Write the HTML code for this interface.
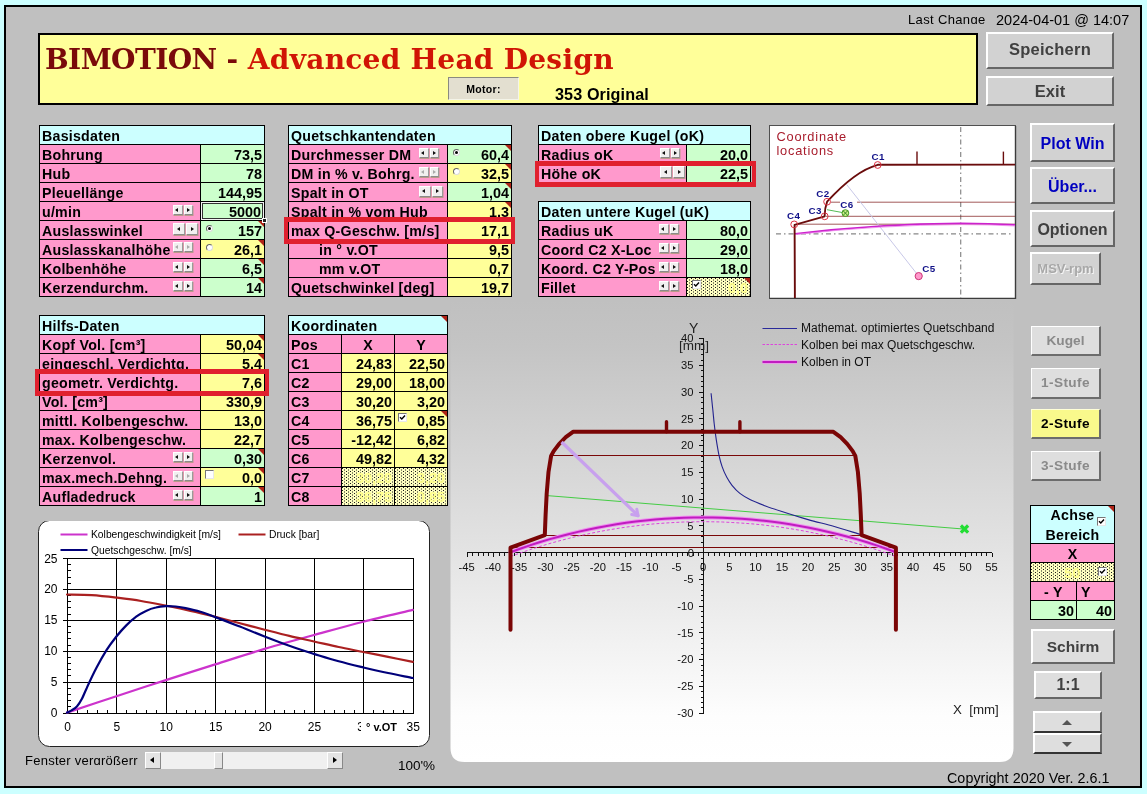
<!DOCTYPE html><html><head><meta charset="utf-8"><title>BIMOTION - Advanced Head Design</title><style>
*{box-sizing:border-box;margin:0;padding:0}
html,body{width:1147px;height:794px;overflow:hidden}
body{background:#ccffff;font-family:"Liberation Sans",sans-serif;position:relative;color:#000}
.a{position:absolute}
#frame{left:4px;top:5px;width:1138px;height:783px;border:2px solid #000;background:#c0c0c0}
.tb{position:absolute;background:#000}
.c{position:absolute;height:18px;font-weight:bold;font-size:14.2px;letter-spacing:0.25px;line-height:20px;white-space:nowrap;overflow:hidden;padding-left:2px}
.v{text-align:right;padding-right:2px;padding-left:0;letter-spacing:0;font-size:14.4px}
.ce{text-align:center;padding-left:0}
.tri{position:absolute;right:0;top:0;width:0;height:0;border-top:6px solid #b02418;border-left:6px solid transparent}
.sp{position:absolute;width:10px;height:10px;background:#f1efef;border-top:1px solid #fff;border-left:1px solid #fff;border-right:1px solid #9a9a9a;border-bottom:1px solid #8a8a8a;box-shadow:0.5px 1px 0 #b98;}
.sp i{position:absolute;left:50%;top:50%;margin:-2px 0 0 -2.5px;width:0;height:0;border-top:2.5px solid transparent;border-bottom:2.5px solid transparent}
.sp.l i{border-right:3.5px solid #111}
.sp.r i{border-left:3.5px solid #111;margin-left:-1.5px}
.sp.d.l i{border-right-color:#aaa}
.sp.d.r i{border-left-color:#aaa}
.rb{position:absolute;width:7px;height:7px;border-radius:50%;background:#fff;border:1px solid #666;border-bottom-color:#ddd;border-right-color:#ddd}
.rb.on::after{content:"";position:absolute;left:1px;top:1px;width:3px;height:3px;border-radius:50%;background:#000}
.cb{position:absolute;width:9px;height:9px;background:#fff;border:1px solid #777;border-bottom-color:#e8e8e8;border-right-color:#e8e8e8}
.dot{background-color:#ffffc0;background-image:conic-gradient(at 1px 1px,rgba(0,0,0,0) 75%,#181818 0),conic-gradient(at 1px 1px,rgba(0,0,0,0) 75%,#181818 0);background-size:4px 3px;background-position:0 0,2px 1.5px}
.btn{position:absolute;background:#d2d2d2;border-top:2px solid #fff;border-left:2px solid #fff;border-right:2px solid #666;border-bottom:2px solid #666;font-weight:bold;text-align:center;white-space:nowrap;color:#404040}
.red{position:absolute;border:4px solid #e0202e}
</style></head><body>
<div id="frame" class="a"></div>
<div class="a" style="left:908px;top:12px;height:12px;overflow:hidden;font-size:13px;letter-spacing:0.35px;line-height:15px;white-space:nowrap">Last Change</div>
<div class="a" style="left:996px;top:12px;font-size:14.5px;line-height:16px;white-space:nowrap">2024-04-01 @ 14:07</div>
<div class="a" style="left:38px;top:33px;width:940px;height:72px;border:2px solid #000;background:#ffff99"></div>
<div class="a" style="left:45px;top:43px;font:bold 28px/34px 'DejaVu Serif','Liberation Serif',serif;white-space:nowrap;color:#7a0a0a"><span style="letter-spacing:-0.55px">BIMOTION</span> - <span style="color:#d01505;letter-spacing:0.28px">Advanced Head Design</span></div>
<div class="a" style="left:448px;top:77px;width:71px;height:23px;background:#e3dfd0;border-top:1px solid #8a8a80;border-left:1px solid #8a8a80;border-right:1px solid #f4f4e8;border-bottom:1px solid #f4f4e8;font-weight:bold;font-size:10.5px;letter-spacing:0.3px;line-height:22px;text-align:center">Motor:</div>
<div class="a" style="left:555px;top:85px;font-weight:bold;font-size:16.2px;letter-spacing:0.1px;line-height:18px;white-space:nowrap">353 Original</div>
<div class="tb" style="left:39px;top:125px;width:226px;height:172px">
<div class="c " style="left:1px;top:1px;width:224px;background:#ccffff;">Basisdaten</div>
<div class="c " style="left:1px;top:20px;width:160px;background:#ff99cc;">Bohrung</div>
<div class="c v" style="left:162px;top:20px;width:63px;background:#ccffcc;">73,5</div>
<div class="c " style="left:1px;top:39px;width:160px;background:#ff99cc;">Hub</div>
<div class="c v" style="left:162px;top:39px;width:63px;background:#ccffcc;">78</div>
<div class="c " style="left:1px;top:58px;width:160px;background:#ff99cc;">Pleuellänge</div>
<div class="c v" style="left:162px;top:58px;width:63px;background:#ccffcc;">144,95</div>
<div class="c " style="left:1px;top:77px;width:160px;background:#ff99cc;">u/min<div class="sp l" style="left:133px;top:3px;width:9.6px;height:9.6px"><i></i></div><div class="sp r" style="left:143.8px;top:3px;width:9.6px;height:9.6px"><i></i></div></div>
<div class="c v" style="left:162px;top:77px;width:63px;background:#ccffcc;padding-right:3px;">5000</div>
<div class="c " style="left:1px;top:96px;width:160px;background:#ff99cc;">Auslasswinkel<div class="sp l" style="left:133px;top:2px;width:12px;height:12px"><i></i></div><div class="sp r" style="left:146.2px;top:2px;width:12px;height:12px"><i></i></div></div>
<div class="c v" style="left:162px;top:96px;width:63px;background:#ccffcc;">157<span class="tri"></span><span class="rb on" style="left:5px;top:4px"></span></div>
<div class="c " style="left:1px;top:115px;width:160px;background:#ff99cc;">Auslasskanalhöhe<div class="sp l d" style="left:133px;top:2px;width:9.6px;height:9.6px"><i></i></div><div class="sp r d" style="left:143.8px;top:2px;width:9.6px;height:9.6px"><i></i></div></div>
<div class="c v" style="left:162px;top:115px;width:63px;background:#ffff99;">26,1<span class="tri"></span><span class="rb" style="left:5px;top:4px"></span></div>
<div class="c " style="left:1px;top:134px;width:160px;background:#ff99cc;">Kolbenhöhe<div class="sp l" style="left:133px;top:3px;width:9.6px;height:9.6px"><i></i></div><div class="sp r" style="left:143.8px;top:3px;width:9.6px;height:9.6px"><i></i></div></div>
<div class="c v" style="left:162px;top:134px;width:63px;background:#ccffcc;">6,5<span class="tri"></span></div>
<div class="c " style="left:1px;top:153px;width:160px;background:#ff99cc;">Kerzendurchm.<div class="sp l" style="left:133px;top:3px;width:9.6px;height:9.6px"><i></i></div><div class="sp r" style="left:143.8px;top:3px;width:9.6px;height:9.6px"><i></i></div></div>
<div class="c v" style="left:162px;top:153px;width:63px;background:#ccffcc;">14<span class="tri"></span></div>
</div>
<div class="a" style="left:200px;top:201px;width:65px;height:20px;border:1px solid #000;box-shadow:inset 0 0 0 1px #f4f4f4, inset 0 0 0 2px #333"></div>
<div class="a" style="left:262px;top:218px;width:5px;height:5px;background:#222;border:1px solid #fff"></div>
<div class="tb" style="left:288px;top:125px;width:224px;height:172px">
<div class="c " style="left:1px;top:1px;width:222px;background:#ccffff;">Quetschkantendaten</div>
<div class="c " style="left:1px;top:20px;width:158px;background:#ff99cc;">Durchmesser DM<div class="sp l" style="left:130px;top:3px;width:9.6px;height:9.6px"><i></i></div><div class="sp r" style="left:140.8px;top:3px;width:9.6px;height:9.6px"><i></i></div></div>
<div class="c v" style="left:160px;top:20px;width:63px;background:#ccffcc;">60,4<span class="tri"></span><span class="rb on" style="left:5px;top:4px"></span></div>
<div class="c " style="left:1px;top:39px;width:158px;background:#ff99cc;">DM in % v. Bohrg.<div class="sp l d" style="left:130px;top:3px;width:9.6px;height:9.6px"><i></i></div><div class="sp r d" style="left:140.8px;top:3px;width:9.6px;height:9.6px"><i></i></div></div>
<div class="c v" style="left:160px;top:39px;width:63px;background:#ffff99;">32,5<span class="tri"></span><span class="rb" style="left:5px;top:4px"></span></div>
<div class="c " style="left:1px;top:58px;width:158px;background:#ff99cc;">Spalt in OT<div class="sp l" style="left:130px;top:2.5px;width:11.5px;height:11.5px"><i></i></div><div class="sp r" style="left:142.7px;top:2.5px;width:11.5px;height:11.5px"><i></i></div></div>
<div class="c v" style="left:160px;top:58px;width:63px;background:#ccffcc;">1,04<span class="tri"></span></div>
<div class="c " style="left:1px;top:77px;width:158px;background:#ff99cc;">Spalt in % vom Hub</div>
<div class="c v" style="left:160px;top:77px;width:63px;background:#ffff99;">1,3<span class="tri"></span></div>
<div class="c " style="left:1px;top:96px;width:158px;background:#ff99cc;">max Q-Geschw. [m/s]</div>
<div class="c v" style="left:160px;top:96px;width:63px;background:#ffff99;">17,1</div>
<div class="c " style="left:1px;top:115px;width:158px;background:#ff99cc;padding-left:30px;">in ° v.OT</div>
<div class="c v" style="left:160px;top:115px;width:63px;background:#ffff99;">9,5</div>
<div class="c " style="left:1px;top:134px;width:158px;background:#ff99cc;padding-left:30px;">mm v.OT</div>
<div class="c v" style="left:160px;top:134px;width:63px;background:#ffff99;">0,7</div>
<div class="c " style="left:1px;top:153px;width:158px;background:#ff99cc;">Quetschwinkel [deg]</div>
<div class="c v" style="left:160px;top:153px;width:63px;background:#ffff99;">19,7</div>
</div>
<div class="tb" style="left:538px;top:125px;width:213px;height:58px">
<div class="c " style="left:1px;top:1px;width:211px;background:#ccffff;">Daten obere Kugel (oK)</div>
<div class="c " style="left:1px;top:20px;width:147px;background:#ff99cc;">Radius oK<div class="sp l" style="left:121px;top:3px;width:9.6px;height:9.6px"><i></i></div><div class="sp r" style="left:131.8px;top:3px;width:9.6px;height:9.6px"><i></i></div></div>
<div class="c v" style="left:149px;top:20px;width:63px;background:#ccffcc;">20,0</div>
<div class="c " style="left:1px;top:39px;width:147px;background:#ff99cc;">Höhe oK<div class="sp l" style="left:121px;top:2px;width:12px;height:12px"><i></i></div><div class="sp r" style="left:134.2px;top:2px;width:12px;height:12px"><i></i></div></div>
<div class="c v" style="left:149px;top:39px;width:63px;background:#ccffcc;">22,5</div>
</div>
<div class="tb" style="left:538px;top:201px;width:213px;height:96px">
<div class="c " style="left:1px;top:1px;width:211px;background:#ccffff;">Daten untere Kugel (uK)</div>
<div class="c " style="left:1px;top:20px;width:147px;background:#ff99cc;">Radius uK<div class="sp l" style="left:120px;top:3px;width:9.6px;height:9.6px"><i></i></div><div class="sp r" style="left:130.8px;top:3px;width:9.6px;height:9.6px"><i></i></div></div>
<div class="c v" style="left:149px;top:20px;width:63px;background:#ccffcc;">80,0</div>
<div class="c " style="left:1px;top:39px;width:147px;background:#ff99cc;">Coord C2 X-Loc<div class="sp l" style="left:120px;top:3px;width:9.6px;height:9.6px"><i></i></div><div class="sp r" style="left:130.8px;top:3px;width:9.6px;height:9.6px"><i></i></div></div>
<div class="c v" style="left:149px;top:39px;width:63px;background:#ccffcc;">29,0</div>
<div class="c " style="left:1px;top:58px;width:147px;background:#ff99cc;">Koord. C2 Y-Pos<div class="sp l" style="left:120px;top:3px;width:9.6px;height:9.6px"><i></i></div><div class="sp r" style="left:130.8px;top:3px;width:9.6px;height:9.6px"><i></i></div></div>
<div class="c v" style="left:149px;top:58px;width:63px;background:#ccffcc;">18,0</div>
<div class="c " style="left:1px;top:77px;width:147px;background:#ff99cc;">Fillet<div class="sp l" style="left:120px;top:3px;width:9.6px;height:9.6px"><i></i></div><div class="sp r" style="left:130.8px;top:3px;width:9.6px;height:9.6px"><i></i></div></div>
<div class="c v dot" style="left:149px;top:77px;width:63px;"><span style="color:#ffff8c">0,0</span><span class="tri"></span><span class="cb" style="left:5px;top:2px"><svg width="7" height="7" viewBox="0 0 7 7" style="position:absolute;left:0;top:0"><path d="M1 3.2 L2.8 5 L6 1.5" stroke="#000" stroke-width="1.4" fill="none"/></svg></span></div>
</div>
<div class="tb" style="left:39px;top:315px;width:226px;height:191px">
<div class="c " style="left:1px;top:1px;width:224px;background:#ccffff;">Hilfs-Daten</div>
<div class="c " style="left:1px;top:20px;width:160px;background:#ff99cc;">Kopf Vol. [cm³]</div>
<div class="c v" style="left:162px;top:20px;width:63px;background:#ffff99;">50,04<span class="tri"></span></div>
<div class="c " style="left:1px;top:39px;width:160px;background:#ff99cc;">eingeschl. Verdichtg.</div>
<div class="c v" style="left:162px;top:39px;width:63px;background:#ffff99;">5,4<span class="tri"></span></div>
<div class="c " style="left:1px;top:58px;width:160px;background:#ff99cc;">geometr. Verdichtg.</div>
<div class="c v" style="left:162px;top:58px;width:63px;background:#ffff99;">7,6</div>
<div class="c " style="left:1px;top:77px;width:160px;background:#ff99cc;">Vol. [cm³]</div>
<div class="c v" style="left:162px;top:77px;width:63px;background:#ffff99;">330,9</div>
<div class="c " style="left:1px;top:96px;width:160px;background:#ff99cc;">mittl. Kolbengeschw.</div>
<div class="c v" style="left:162px;top:96px;width:63px;background:#ffff99;">13,0</div>
<div class="c " style="left:1px;top:115px;width:160px;background:#ff99cc;">max. Kolbengeschw.</div>
<div class="c v" style="left:162px;top:115px;width:63px;background:#ffff99;">22,7</div>
<div class="c " style="left:1px;top:134px;width:160px;background:#ff99cc;">Kerzenvol.<div class="sp l" style="left:133px;top:3px;width:9.6px;height:9.6px"><i></i></div><div class="sp r" style="left:143.8px;top:3px;width:9.6px;height:9.6px"><i></i></div></div>
<div class="c v" style="left:162px;top:134px;width:63px;background:#ccffcc;">0,30<span class="tri"></span></div>
<div class="c " style="left:1px;top:153px;width:160px;background:#ff99cc;">max.mech.Dehng.<div class="sp l d" style="left:133px;top:3px;width:9.6px;height:9.6px"><i></i></div><div class="sp r d" style="left:143.8px;top:3px;width:9.6px;height:9.6px"><i></i></div></div>
<div class="c v" style="left:162px;top:153px;width:63px;background:#ffff99;">0,0<span class="tri"></span><span class="cb" style="left:4px;top:2px"></span></div>
<div class="c " style="left:1px;top:172px;width:160px;background:#ff99cc;">Aufladedruck<div class="sp l" style="left:133px;top:3px;width:9.6px;height:9.6px"><i></i></div><div class="sp r" style="left:143.8px;top:3px;width:9.6px;height:9.6px"><i></i></div></div>
<div class="c v" style="left:162px;top:172px;width:63px;background:#ccffcc;">1<span class="tri"></span></div>
</div>
<div class="tb" style="left:288px;top:315px;width:160px;height:191px">
<div class="c " style="left:1px;top:1px;width:158px;background:#ccffff;">Koordinaten<span class="tri"></span></div>
<div class="c " style="left:1px;top:20px;width:52px;background:#ff99cc;">Pos</div>
<div class="c ce" style="left:54px;top:20px;width:52px;background:#ff99cc;">X</div>
<div class="c ce" style="left:107px;top:20px;width:52px;background:#ff99cc;">Y</div>
<div class="c " style="left:1px;top:39px;width:52px;background:#ff99cc;">C1</div>
<div class="c v" style="left:54px;top:39px;width:52px;background:#ffff99;">24,83</div>
<div class="c v" style="left:107px;top:39px;width:52px;background:#ffff99;">22,50</div>
<div class="c " style="left:1px;top:58px;width:52px;background:#ff99cc;">C2</div>
<div class="c v" style="left:54px;top:58px;width:52px;background:#ffff99;">29,00</div>
<div class="c v" style="left:107px;top:58px;width:52px;background:#ffff99;">18,00</div>
<div class="c " style="left:1px;top:77px;width:52px;background:#ff99cc;">C3</div>
<div class="c v" style="left:54px;top:77px;width:52px;background:#ffff99;">30,20</div>
<div class="c v" style="left:107px;top:77px;width:52px;background:#ffff99;">3,20</div>
<div class="c " style="left:1px;top:96px;width:52px;background:#ff99cc;">C4</div>
<div class="c v" style="left:54px;top:96px;width:52px;background:#ffff99;">36,75</div>
<div class="c v" style="left:107px;top:96px;width:52px;background:#ffff99;">0,85<span class="tri"></span><span class="cb" style="left:3px;top:2px"><svg width="7" height="7" viewBox="0 0 7 7" style="position:absolute;left:0;top:0"><path d="M1 3.2 L2.8 5 L6 1.5" stroke="#000" stroke-width="1.4" fill="none"/></svg></span></div>
<div class="c " style="left:1px;top:115px;width:52px;background:#ff99cc;">C5</div>
<div class="c v" style="left:54px;top:115px;width:52px;background:#ffff99;">-12,42</div>
<div class="c v" style="left:107px;top:115px;width:52px;background:#ffff99;">6,82</div>
<div class="c " style="left:1px;top:134px;width:52px;background:#ff99cc;">C6</div>
<div class="c v" style="left:54px;top:134px;width:52px;background:#ffff99;">49,82</div>
<div class="c v" style="left:107px;top:134px;width:52px;background:#ffff99;">4,32</div>
<div class="c " style="left:1px;top:153px;width:52px;background:#ff99cc;">C7</div>
<div class="c v dot" style="left:54px;top:153px;width:52px;"><span style="color:#ffff8c">30,20</span></div>
<div class="c v dot" style="left:107px;top:153px;width:52px;"><span style="color:#ffff8c">3,20</span></div>
<div class="c " style="left:1px;top:172px;width:52px;background:#ff99cc;">C8</div>
<div class="c v dot" style="left:54px;top:172px;width:52px;"><span style="color:#ffff8c">36,75</span></div>
<div class="c v dot" style="left:107px;top:172px;width:52px;"><span style="color:#ffff8c">0,85</span></div>
</div>
<div class="red" style="left:284px;top:217px;width:231px;height:27px;border-top-width:5px;border-bottom-width:5px"></div>
<div class="red" style="left:535px;top:161px;width:221px;height:26px;border-top-width:5px;border-bottom-width:5px"></div>
<div class="red" style="left:35px;top:369px;width:234px;height:27px;border-top-width:5px;border-bottom-width:5px"></div>
<div class="btn" style="left:986px;top:32px;width:128px;height:37px;font-size:16.5px;line-height:33px;color:#404040;background:#d2d2d2;line-height:31px;letter-spacing:0.25px;">Speichern</div>
<div class="btn" style="left:986px;top:76px;width:128px;height:30px;font-size:16.5px;line-height:26px;color:#404040;background:#d2d2d2;">Exit</div>
<div class="btn" style="left:1030px;top:123px;width:85px;height:39px;font-size:16px;line-height:35px;color:#0000c0;background:#d2d2d2;line-height:37px;">Plot Win</div>
<div class="btn" style="left:1030px;top:167px;width:85px;height:37px;font-size:16px;line-height:33px;color:#0000c0;background:#d2d2d2;line-height:35px;">Über...</div>
<div class="btn" style="left:1030px;top:210px;width:85px;height:37px;font-size:16px;line-height:33px;color:#404040;background:#d2d2d2;line-height:35px;">Optionen</div>
<div class="btn" style="left:1030px;top:252px;width:71px;height:33px;font-size:13px;line-height:29px;color:#a8a8a8;background:#d2d2d2;text-shadow:1px 1px 0 #f4f4f4;">MSV-rpm</div>
<div class="btn" style="left:1031px;top:326px;width:70px;height:30px;font-size:13.7px;line-height:26px;color:#8a8a8a;background:#dedede;border-top-width:1px;border-left-width:1px;border-right-color:#6c6c6c;border-bottom-color:#6c6c6c;line-height:27px;">Kugel</div>
<div class="btn" style="left:1031px;top:368px;width:70px;height:31px;font-size:13.6px;line-height:27px;color:#8a8a8a;background:#dedede;border-top-width:1px;border-left-width:1px;border-right-color:#6c6c6c;border-bottom-color:#6c6c6c;letter-spacing:0.4px;line-height:28px;">1-Stufe</div>
<div class="btn" style="left:1031px;top:409px;width:70px;height:30px;font-size:13.6px;line-height:26px;color:#000;background:#f9f98c;border-top-width:1px;border-left-width:1px;border-right-color:#6c6c6c;border-bottom-color:#6c6c6c;letter-spacing:0.4px;line-height:27px;border-top-color:#ffffd8;border-left-color:#ffffd8;">2-Stufe</div>
<div class="btn" style="left:1031px;top:451px;width:70px;height:30px;font-size:13.6px;line-height:26px;color:#8a8a8a;background:#dedede;border-top-width:1px;border-left-width:1px;border-right-color:#6c6c6c;border-bottom-color:#6c6c6c;letter-spacing:0.4px;line-height:27px;">3-Stufe</div>
<div class="btn" style="left:1031px;top:629px;width:84px;height:35px;font-size:15.5px;line-height:31px;color:#404040;background:#dedede;">Schirm</div>
<div class="btn" style="left:1034px;top:671px;width:68px;height:28px;font-size:16px;line-height:24px;color:#404040;background:#dedede;">1:1</div>
<div class="btn" style="left:1033px;top:711px;width:69px;height:22px;border-bottom-color:#333;background:#dedede"><svg width="64" height="18" style="position:absolute;left:0;top:0"><path d="M27 12 L37 12 L32 7 Z" fill="#555"/></svg></div>
<div class="btn" style="left:1033px;top:733px;width:69px;height:21px;border-bottom-color:#333;background:#dedede"><svg width="64" height="18" style="position:absolute;left:0;top:0"><path d="M27 7 L37 7 L32 12 Z" fill="#555"/></svg></div>
<div class="tb" style="left:1030px;top:505px;width:85px;height:115px">
<div class="c ce" style="left:1px;top:1px;width:83px;height:37px;background:#ccffff;line-height:19.5px">Achse<br>Bereich<span class="tri"></span><span class="cb" style="left:66px;top:11px"><svg width="7" height="7" viewBox="0 0 7 7" style="position:absolute;left:0;top:0"><path d="M1 3.2 L2.8 5 L6 1.5" stroke="#000" stroke-width="1.4" fill="none"/></svg></span></div>
<div class="c ce" style="left:1px;top:39px;width:83px;background:#ff99cc">X</div>
<div class="c ce dot" style="left:1px;top:58px;width:83px"><span style="color:#ffff8c">50</span><span class="cb" style="left:67px;top:4px"><svg width="7" height="7" viewBox="0 0 7 7" style="position:absolute;left:0;top:0"><path d="M1 3.2 L2.8 5 L6 1.5" stroke="#000" stroke-width="1.4" fill="none"/></svg></span></div>
<div class="c" style="left:1px;top:77px;width:45px;background:#ff99cc;padding-left:13px">- Y</div>
<div class="c" style="left:47px;top:77px;width:37px;background:#ff99cc;padding-left:4px">Y</div>
<div class="c v" style="left:1px;top:96px;width:45px;background:#ccffcc">30</div>
<div class="c v" style="left:47px;top:96px;width:37px;background:#ccffcc">40</div>
</div>
<div class="a" style="left:25px;top:753px;height:11.5px;overflow:hidden;font-size:13px;line-height:16px;white-space:nowrap;letter-spacing:0.25px">Fenster vergrößerr</div>
<div class="a" style="left:398px;top:758px;font-size:13.5px;line-height:15px;white-space:nowrap">100'%</div>
<div class="a" style="left:947px;top:770px;font-size:14.3px;letter-spacing:0.05px;line-height:16px;white-space:nowrap">Copyright 2020 Ver. 2.6.1</div>
<div class="a" style="left:145px;top:752px;width:198px;height:17px;background:#f0f0f0"></div>
<div class="a" style="left:145px;top:752px;width:16px;height:17px;background:#e4e4e4;border:1px solid #fff;border-right-color:#888;border-bottom-color:#888"><i style="position:absolute;left:4px;top:4px;border-top:3.5px solid transparent;border-bottom:3.5px solid transparent;border-right:4px solid #000"></i></div>
<div class="a" style="left:327px;top:752px;width:16px;height:17px;background:#e4e4e4;border:1px solid #fff;border-right-color:#888;border-bottom-color:#888"><i style="position:absolute;left:5px;top:4px;border-top:3.5px solid transparent;border-bottom:3.5px solid transparent;border-left:4px solid #000"></i></div>
<div class="a" style="left:214px;top:752px;width:9px;height:17px;background:#e4e4e4;border:1px solid #fff;border-right-color:#888;border-bottom-color:#888"></div>
<svg class="a" style="left:769px;top:125px" width="248" height="174" viewBox="769 125 248 174"><rect x="769.5" y="125.5" width="246" height="173" fill="#fff" stroke="#505050" stroke-width="1"/><path d="M770 298.5 L1015.5 298.5 L1015.5 126" fill="none" stroke="#3c3c3c" stroke-width="1.4"/><g stroke="#888" stroke-width="1.2" stroke-dasharray="5 3 1.5 3" fill="none"><line x1="960.7" y1="127" x2="960.7" y2="298"/><line x1="776" y1="233.9" x2="1012" y2="233.9"/></g><g stroke="#8c3030" stroke-width="0.8" fill="none"><line x1="831" y1="202.2" x2="840" y2="202.2"/><line x1="857" y1="202.2" x2="1015" y2="202.2"/><line x1="826" y1="216.3" x2="1015" y2="216.3"/><line x1="796" y1="224.2" x2="1015" y2="224.2"/></g><line x1="846.7" y1="184.6" x2="918.7" y2="276.1" stroke="#c8c8e8" stroke-width="1"/><line x1="827" y1="209.7" x2="845.4" y2="213.1" stroke="#55bb55" stroke-width="1"/><path d="M795 233.9 Q 880 223.5 960.7 223.3 Q 990 223.3 1015 224.9" fill="none" stroke="#cc22cc" stroke-width="1.8"/><path d="M795 234.5 Q 880 225 960.7 224.6 Q 990 224.6 1015 226" fill="none" stroke="#ee88ee" stroke-width="0.8"/><path d="M1015 164.6 L877.7 164.8 C 862 169 845 182 827.1 201.7 Q 824.5 209 824.7 216.3 L 794.6 224.9 L 794.9 298" fill="none" stroke="#6a0c0c" stroke-width="1.9" stroke-linejoin="round"/><g stroke="#6a0c0c" stroke-width="1.4"><line x1="917" y1="151.6" x2="917" y2="164.6"/><line x1="1003.4" y1="151.6" x2="1003.4" y2="164.6"/></g><g fill="none" stroke="#dd3344" stroke-width="1"><circle cx="877.7" cy="165" r="3.4"/><circle cx="827.1" cy="201.7" r="3.4"/><circle cx="824.7" cy="216.3" r="3.4"/><circle cx="794.2" cy="224.4" r="3.4"/></g><circle cx="918.7" cy="276.1" r="3.6" fill="#ff99cc" stroke="#cc3377" stroke-width="1"/><circle cx="845.4" cy="213.1" r="3.4" fill="#ccee88" stroke="#449922" stroke-width="1"/><path d="M843 210.7 L847.8 215.5 M847.8 210.7 L843 215.5" stroke="#338822" stroke-width="1"/><g font-family="Liberation Sans, sans-serif" font-size="9.8" font-weight="bold" letter-spacing="0.4" fill="#101088"><text x="871.5" y="159.5">C1</text><text x="816.3" y="196.5">C2</text><text x="808.5" y="214.0">C3</text><text x="787.0" y="219.0">C4</text><text x="922.3" y="272.0">C5</text><text x="840.3" y="207.5">C6</text></g><g font-family="Liberation Sans, sans-serif" font-size="12.8" letter-spacing="0.78" fill="#a81c2c"><text x="776.5" y="140.5">Coordinate</text><text x="776.5" y="154.5">locations</text></g></svg>
<svg class="a" style="left:38px;top:521px" width="392" height="227" viewBox="38 521 392 227"><rect x="38.5" y="520.5" width="391" height="226" rx="11" ry="11" fill="#fff" stroke="#222" stroke-width="1"/><g stroke="#000" stroke-width="1" shape-rendering="crispEdges"><line x1="67.5" y1="558.0" x2="67.5" y2="712.6"/><line x1="116.5" y1="558.0" x2="116.5" y2="712.6"/><line x1="166.5" y1="558.0" x2="166.5" y2="712.6"/><line x1="215.5" y1="558.0" x2="215.5" y2="712.6"/><line x1="265.5" y1="558.0" x2="265.5" y2="712.6"/><line x1="314.5" y1="558.0" x2="314.5" y2="712.6"/><line x1="363.5" y1="558.0" x2="363.5" y2="712.6"/><line x1="413.5" y1="558.0" x2="413.5" y2="712.6"/><line x1="63.0" y1="713.5" x2="412.8" y2="713.5"/><line x1="63.0" y1="682.5" x2="412.8" y2="682.5"/><line x1="63.0" y1="651.5" x2="412.8" y2="651.5"/><line x1="63.0" y1="620.5" x2="412.8" y2="620.5"/><line x1="63.0" y1="589.5" x2="412.8" y2="589.5"/><line x1="63.0" y1="558.5" x2="412.8" y2="558.5"/><line x1="67.0" y1="713.5" x2="71.0" y2="713.5"/><line x1="67.0" y1="706.5" x2="71.0" y2="706.5"/><line x1="67.0" y1="700.5" x2="71.0" y2="700.5"/><line x1="67.0" y1="694.5" x2="71.0" y2="694.5"/><line x1="67.0" y1="688.5" x2="71.0" y2="688.5"/><line x1="67.0" y1="682.5" x2="71.0" y2="682.5"/><line x1="67.0" y1="675.5" x2="71.0" y2="675.5"/><line x1="67.0" y1="669.5" x2="71.0" y2="669.5"/><line x1="67.0" y1="663.5" x2="71.0" y2="663.5"/><line x1="67.0" y1="657.5" x2="71.0" y2="657.5"/><line x1="67.0" y1="651.5" x2="71.0" y2="651.5"/><line x1="67.0" y1="645.5" x2="71.0" y2="645.5"/><line x1="67.0" y1="638.5" x2="71.0" y2="638.5"/><line x1="67.0" y1="632.5" x2="71.0" y2="632.5"/><line x1="67.0" y1="626.5" x2="71.0" y2="626.5"/><line x1="67.0" y1="620.5" x2="71.0" y2="620.5"/><line x1="67.0" y1="614.5" x2="71.0" y2="614.5"/><line x1="67.0" y1="607.5" x2="71.0" y2="607.5"/><line x1="67.0" y1="601.5" x2="71.0" y2="601.5"/><line x1="67.0" y1="595.5" x2="71.0" y2="595.5"/><line x1="67.0" y1="589.5" x2="71.0" y2="589.5"/><line x1="67.0" y1="583.5" x2="71.0" y2="583.5"/><line x1="67.0" y1="577.5" x2="71.0" y2="577.5"/><line x1="67.0" y1="570.5" x2="71.0" y2="570.5"/><line x1="67.0" y1="564.5" x2="71.0" y2="564.5"/><line x1="67.0" y1="558.5" x2="71.0" y2="558.5"/><line x1="67.5" y1="709.6" x2="67.5" y2="713.6"/><line x1="77.5" y1="709.6" x2="77.5" y2="713.6"/><line x1="87.5" y1="709.6" x2="87.5" y2="713.6"/><line x1="97.5" y1="709.6" x2="97.5" y2="713.6"/><line x1="107.5" y1="709.6" x2="107.5" y2="713.6"/><line x1="116.5" y1="709.6" x2="116.5" y2="713.6"/><line x1="126.5" y1="709.6" x2="126.5" y2="713.6"/><line x1="136.5" y1="709.6" x2="136.5" y2="713.6"/><line x1="146.5" y1="709.6" x2="146.5" y2="713.6"/><line x1="156.5" y1="709.6" x2="156.5" y2="713.6"/><line x1="166.5" y1="709.6" x2="166.5" y2="713.6"/><line x1="176.5" y1="709.6" x2="176.5" y2="713.6"/><line x1="186.5" y1="709.6" x2="186.5" y2="713.6"/><line x1="195.5" y1="709.6" x2="195.5" y2="713.6"/><line x1="205.5" y1="709.6" x2="205.5" y2="713.6"/><line x1="215.5" y1="709.6" x2="215.5" y2="713.6"/><line x1="225.5" y1="709.6" x2="225.5" y2="713.6"/><line x1="235.5" y1="709.6" x2="235.5" y2="713.6"/><line x1="245.5" y1="709.6" x2="245.5" y2="713.6"/><line x1="255.5" y1="709.6" x2="255.5" y2="713.6"/><line x1="265.5" y1="709.6" x2="265.5" y2="713.6"/><line x1="274.5" y1="709.6" x2="274.5" y2="713.6"/><line x1="284.5" y1="709.6" x2="284.5" y2="713.6"/><line x1="294.5" y1="709.6" x2="294.5" y2="713.6"/><line x1="304.5" y1="709.6" x2="304.5" y2="713.6"/><line x1="314.5" y1="709.6" x2="314.5" y2="713.6"/><line x1="324.5" y1="709.6" x2="324.5" y2="713.6"/><line x1="334.5" y1="709.6" x2="334.5" y2="713.6"/><line x1="344.5" y1="709.6" x2="344.5" y2="713.6"/><line x1="354.5" y1="709.6" x2="354.5" y2="713.6"/><line x1="363.5" y1="709.6" x2="363.5" y2="713.6"/><line x1="373.5" y1="709.6" x2="373.5" y2="713.6"/><line x1="383.5" y1="709.6" x2="383.5" y2="713.6"/><line x1="393.5" y1="709.6" x2="393.5" y2="713.6"/><line x1="403.5" y1="709.6" x2="403.5" y2="713.6"/><line x1="413.5" y1="709.6" x2="413.5" y2="713.6"/></g><path d="M67.0 712.6 C75.2 709.9 99.9 701.6 116.4 696.2 C132.9 690.8 149.3 685.4 165.8 680.1 C182.3 674.8 198.7 669.6 215.2 664.4 C231.7 659.2 248.1 653.8 264.6 648.9 C281.1 644.0 297.5 639.5 314.0 635.0 C330.5 630.5 346.9 625.9 363.4 621.7 C379.9 617.5 404.6 611.9 412.8 609.9" fill="none" stroke="#cc33cc" stroke-width="2.2" stroke-linecap="round"/><path d="M67.0 594.5 C71.1 594.6 83.5 594.6 91.7 595.1 C99.9 595.6 108.2 596.6 116.4 597.6 C124.6 598.6 132.9 599.6 141.1 601.0 C149.3 602.3 157.6 604.0 165.8 605.6 C174.0 607.3 182.3 609.0 190.5 610.9 C198.7 612.7 207.0 614.7 215.2 616.7 C223.4 618.8 231.7 621.1 239.9 623.2 C248.1 625.4 256.4 627.6 264.6 629.7 C272.8 631.8 281.1 634.0 289.3 635.9 C297.5 637.9 305.8 639.6 314.0 641.5 C322.2 643.3 330.5 645.3 338.7 647.0 C346.9 648.8 355.2 650.3 363.4 652.0 C371.6 653.6 379.9 655.3 388.1 656.9 C396.3 658.6 408.7 661.1 412.8 661.9" fill="none" stroke="#aa2020" stroke-width="2.2" stroke-linecap="round"/><path d="M67.0 712.6 C67.8 712.2 70.3 711.2 71.9 710.1 C73.6 709.1 75.2 708.3 76.9 706.4 C78.5 704.6 80.2 702.1 81.8 699.0 C83.5 695.9 84.3 693.1 86.8 687.9 C89.2 682.6 93.3 673.7 96.6 667.5 C99.9 661.2 103.2 655.3 106.5 650.1 C109.8 645.0 113.1 640.7 116.4 636.5 C119.7 632.4 123.0 628.7 126.3 625.4 C129.6 622.1 132.9 619.2 136.2 616.7 C139.5 614.3 142.7 612.4 146.0 610.9 C149.3 609.3 152.6 608.2 155.9 607.5 C159.2 606.7 162.5 606.4 165.8 606.2 C169.1 606.1 172.4 606.2 175.7 606.5 C179.0 606.9 181.4 607.2 185.6 608.1 C189.7 609.0 195.4 610.3 200.4 611.8 C205.3 613.3 208.6 614.6 215.2 617.1 C221.8 619.5 231.7 623.4 239.9 626.6 C248.1 629.9 256.4 633.3 264.6 636.5 C272.8 639.7 281.1 642.9 289.3 645.8 C297.5 648.7 305.8 651.3 314.0 653.9 C322.2 656.4 330.5 659.0 338.7 661.3 C346.9 663.5 355.2 665.5 363.4 667.5 C371.6 669.4 379.9 671.3 388.1 673.0 C396.3 674.8 408.7 677.1 412.8 678.0" fill="none" stroke="#00007a" stroke-width="2.2" stroke-linecap="round"/><g font-family="Liberation Sans, sans-serif" font-size="12" fill="#000"><text x="57.5" y="717.1" text-anchor="end">0</text><text x="57.5" y="686.2" text-anchor="end">5</text><text x="57.5" y="655.3" text-anchor="end">10</text><text x="57.5" y="624.3" text-anchor="end">15</text><text x="57.5" y="593.4" text-anchor="end">20</text><text x="57.5" y="562.5" text-anchor="end">25</text><text x="67.5" y="730.5" text-anchor="middle">0</text><text x="116.9" y="730.5" text-anchor="middle">5</text><text x="166.3" y="730.5" text-anchor="middle">10</text><text x="215.7" y="730.5" text-anchor="middle">15</text><text x="265.1" y="730.5" text-anchor="middle">20</text><text x="314.5" y="730.5" text-anchor="middle">25</text><text x="363.9" y="730.5" text-anchor="middle">30</text><text x="413.3" y="730.5" text-anchor="middle">35</text></g><rect x="361" y="719" width="45" height="15" fill="#fff"/><text x="366" y="730.5" font-family="Liberation Sans, sans-serif" font-size="11" font-weight="bold" fill="#000">° v.OT</text><g stroke-width="2" fill="none"><line x1="60.5" y1="534.5" x2="87.5" y2="534.5" stroke="#cc33cc"/><line x1="238.5" y1="534.5" x2="265.5" y2="534.5" stroke="#aa2020"/><line x1="60.5" y1="550" x2="87.5" y2="550" stroke="#00007a"/></g><g font-family="Liberation Sans, sans-serif" font-size="10.3" fill="#000"><text x="91" y="538">Kolbengeschwindigkeit [m/s]</text><text x="269" y="538">Druck [bar]</text><text x="91" y="553.5">Quetschgeschw. [m/s]</text></g></svg>
<svg class="a" style="left:440px;top:296px" width="580" height="470" viewBox="440 296 580 470"><defs><linearGradient id="gb" x1="0" y1="0" x2="0" y2="1"><stop offset="0" stop-color="#c0c0c0"/><stop offset="0.1" stop-color="#c4c4c4"/><stop offset="0.5" stop-color="#e0e0e0"/><stop offset="0.9" stop-color="#fdfdfd"/><stop offset="1" stop-color="#ffffff"/></linearGradient></defs><path d="M450.5 300 L1013.5 300 L1013.5 748 Q1013.5 762 999.5 762 L464.5 762 Q450.5 762 450.5 748 Z" fill="url(#gb)"/><g stroke="#111" stroke-width="1" shape-rendering="crispEdges"><line x1="467.2" y1="552.5" x2="991.6" y2="552.5"/><line x1="703.5" y1="338.2" x2="703.5" y2="712.7"/><line x1="467.5" y1="552.5" x2="467.5" y2="557.0"/><line x1="472.5" y1="552.5" x2="472.5" y2="556.0"/><line x1="478.5" y1="552.5" x2="478.5" y2="556.0"/><line x1="483.5" y1="552.5" x2="483.5" y2="556.0"/><line x1="488.5" y1="552.5" x2="488.5" y2="556.0"/><line x1="493.5" y1="552.5" x2="493.5" y2="557.0"/><line x1="499.5" y1="552.5" x2="499.5" y2="556.0"/><line x1="504.5" y1="552.5" x2="504.5" y2="556.0"/><line x1="509.5" y1="552.5" x2="509.5" y2="556.0"/><line x1="514.5" y1="552.5" x2="514.5" y2="556.0"/><line x1="520.5" y1="552.5" x2="520.5" y2="557.0"/><line x1="525.5" y1="552.5" x2="525.5" y2="556.0"/><line x1="530.5" y1="552.5" x2="530.5" y2="556.0"/><line x1="535.5" y1="552.5" x2="535.5" y2="556.0"/><line x1="541.5" y1="552.5" x2="541.5" y2="556.0"/><line x1="546.5" y1="552.5" x2="546.5" y2="557.0"/><line x1="551.5" y1="552.5" x2="551.5" y2="556.0"/><line x1="556.5" y1="552.5" x2="556.5" y2="556.0"/><line x1="562.5" y1="552.5" x2="562.5" y2="556.0"/><line x1="567.5" y1="552.5" x2="567.5" y2="556.0"/><line x1="572.5" y1="552.5" x2="572.5" y2="557.0"/><line x1="577.5" y1="552.5" x2="577.5" y2="556.0"/><line x1="583.5" y1="552.5" x2="583.5" y2="556.0"/><line x1="588.5" y1="552.5" x2="588.5" y2="556.0"/><line x1="593.5" y1="552.5" x2="593.5" y2="556.0"/><line x1="598.5" y1="552.5" x2="598.5" y2="557.0"/><line x1="604.5" y1="552.5" x2="604.5" y2="556.0"/><line x1="609.5" y1="552.5" x2="609.5" y2="556.0"/><line x1="614.5" y1="552.5" x2="614.5" y2="556.0"/><line x1="619.5" y1="552.5" x2="619.5" y2="556.0"/><line x1="625.5" y1="552.5" x2="625.5" y2="557.0"/><line x1="630.5" y1="552.5" x2="630.5" y2="556.0"/><line x1="635.5" y1="552.5" x2="635.5" y2="556.0"/><line x1="640.5" y1="552.5" x2="640.5" y2="556.0"/><line x1="646.5" y1="552.5" x2="646.5" y2="556.0"/><line x1="651.5" y1="552.5" x2="651.5" y2="557.0"/><line x1="656.5" y1="552.5" x2="656.5" y2="556.0"/><line x1="661.5" y1="552.5" x2="661.5" y2="556.0"/><line x1="666.5" y1="552.5" x2="666.5" y2="556.0"/><line x1="672.5" y1="552.5" x2="672.5" y2="556.0"/><line x1="677.5" y1="552.5" x2="677.5" y2="557.0"/><line x1="682.5" y1="552.5" x2="682.5" y2="556.0"/><line x1="687.5" y1="552.5" x2="687.5" y2="556.0"/><line x1="693.5" y1="552.5" x2="693.5" y2="556.0"/><line x1="698.5" y1="552.5" x2="698.5" y2="556.0"/><line x1="703.5" y1="552.5" x2="703.5" y2="557.0"/><line x1="708.5" y1="552.5" x2="708.5" y2="556.0"/><line x1="714.5" y1="552.5" x2="714.5" y2="556.0"/><line x1="719.5" y1="552.5" x2="719.5" y2="556.0"/><line x1="724.5" y1="552.5" x2="724.5" y2="556.0"/><line x1="729.5" y1="552.5" x2="729.5" y2="557.0"/><line x1="735.5" y1="552.5" x2="735.5" y2="556.0"/><line x1="740.5" y1="552.5" x2="740.5" y2="556.0"/><line x1="745.5" y1="552.5" x2="745.5" y2="556.0"/><line x1="750.5" y1="552.5" x2="750.5" y2="556.0"/><line x1="756.5" y1="552.5" x2="756.5" y2="557.0"/><line x1="761.5" y1="552.5" x2="761.5" y2="556.0"/><line x1="766.5" y1="552.5" x2="766.5" y2="556.0"/><line x1="771.5" y1="552.5" x2="771.5" y2="556.0"/><line x1="777.5" y1="552.5" x2="777.5" y2="556.0"/><line x1="782.5" y1="552.5" x2="782.5" y2="557.0"/><line x1="787.5" y1="552.5" x2="787.5" y2="556.0"/><line x1="792.5" y1="552.5" x2="792.5" y2="556.0"/><line x1="798.5" y1="552.5" x2="798.5" y2="556.0"/><line x1="803.5" y1="552.5" x2="803.5" y2="556.0"/><line x1="808.5" y1="552.5" x2="808.5" y2="557.0"/><line x1="813.5" y1="552.5" x2="813.5" y2="556.0"/><line x1="819.5" y1="552.5" x2="819.5" y2="556.0"/><line x1="824.5" y1="552.5" x2="824.5" y2="556.0"/><line x1="829.5" y1="552.5" x2="829.5" y2="556.0"/><line x1="834.5" y1="552.5" x2="834.5" y2="557.0"/><line x1="840.5" y1="552.5" x2="840.5" y2="556.0"/><line x1="845.5" y1="552.5" x2="845.5" y2="556.0"/><line x1="850.5" y1="552.5" x2="850.5" y2="556.0"/><line x1="855.5" y1="552.5" x2="855.5" y2="556.0"/><line x1="861.5" y1="552.5" x2="861.5" y2="557.0"/><line x1="866.5" y1="552.5" x2="866.5" y2="556.0"/><line x1="871.5" y1="552.5" x2="871.5" y2="556.0"/><line x1="876.5" y1="552.5" x2="876.5" y2="556.0"/><line x1="881.5" y1="552.5" x2="881.5" y2="556.0"/><line x1="887.5" y1="552.5" x2="887.5" y2="557.0"/><line x1="892.5" y1="552.5" x2="892.5" y2="556.0"/><line x1="897.5" y1="552.5" x2="897.5" y2="556.0"/><line x1="902.5" y1="552.5" x2="902.5" y2="556.0"/><line x1="908.5" y1="552.5" x2="908.5" y2="556.0"/><line x1="913.5" y1="552.5" x2="913.5" y2="557.0"/><line x1="918.5" y1="552.5" x2="918.5" y2="556.0"/><line x1="923.5" y1="552.5" x2="923.5" y2="556.0"/><line x1="929.5" y1="552.5" x2="929.5" y2="556.0"/><line x1="934.5" y1="552.5" x2="934.5" y2="556.0"/><line x1="939.5" y1="552.5" x2="939.5" y2="557.0"/><line x1="944.5" y1="552.5" x2="944.5" y2="556.0"/><line x1="950.5" y1="552.5" x2="950.5" y2="556.0"/><line x1="955.5" y1="552.5" x2="955.5" y2="556.0"/><line x1="960.5" y1="552.5" x2="960.5" y2="556.0"/><line x1="965.5" y1="552.5" x2="965.5" y2="557.0"/><line x1="971.5" y1="552.5" x2="971.5" y2="556.0"/><line x1="976.5" y1="552.5" x2="976.5" y2="556.0"/><line x1="981.5" y1="552.5" x2="981.5" y2="556.0"/><line x1="986.5" y1="552.5" x2="986.5" y2="556.0"/><line x1="992.5" y1="552.5" x2="992.5" y2="557.0"/><line x1="698.5" y1="713.5" x2="703.5" y2="713.5"/><line x1="700.5" y1="707.5" x2="703.5" y2="707.5"/><line x1="700.5" y1="702.5" x2="703.5" y2="702.5"/><line x1="700.5" y1="697.5" x2="703.5" y2="697.5"/><line x1="700.5" y1="691.5" x2="703.5" y2="691.5"/><line x1="698.5" y1="686.5" x2="703.5" y2="686.5"/><line x1="700.5" y1="681.5" x2="703.5" y2="681.5"/><line x1="700.5" y1="675.5" x2="703.5" y2="675.5"/><line x1="700.5" y1="670.5" x2="703.5" y2="670.5"/><line x1="700.5" y1="665.5" x2="703.5" y2="665.5"/><line x1="698.5" y1="659.5" x2="703.5" y2="659.5"/><line x1="700.5" y1="654.5" x2="703.5" y2="654.5"/><line x1="700.5" y1="648.5" x2="703.5" y2="648.5"/><line x1="700.5" y1="643.5" x2="703.5" y2="643.5"/><line x1="700.5" y1="638.5" x2="703.5" y2="638.5"/><line x1="698.5" y1="632.5" x2="703.5" y2="632.5"/><line x1="700.5" y1="627.5" x2="703.5" y2="627.5"/><line x1="700.5" y1="622.5" x2="703.5" y2="622.5"/><line x1="700.5" y1="616.5" x2="703.5" y2="616.5"/><line x1="700.5" y1="611.5" x2="703.5" y2="611.5"/><line x1="698.5" y1="606.5" x2="703.5" y2="606.5"/><line x1="700.5" y1="600.5" x2="703.5" y2="600.5"/><line x1="700.5" y1="595.5" x2="703.5" y2="595.5"/><line x1="700.5" y1="590.5" x2="703.5" y2="590.5"/><line x1="700.5" y1="584.5" x2="703.5" y2="584.5"/><line x1="698.5" y1="579.5" x2="703.5" y2="579.5"/><line x1="700.5" y1="574.5" x2="703.5" y2="574.5"/><line x1="700.5" y1="568.5" x2="703.5" y2="568.5"/><line x1="700.5" y1="563.5" x2="703.5" y2="563.5"/><line x1="700.5" y1="558.5" x2="703.5" y2="558.5"/><line x1="698.5" y1="552.5" x2="703.5" y2="552.5"/><line x1="700.5" y1="547.5" x2="703.5" y2="547.5"/><line x1="700.5" y1="542.5" x2="703.5" y2="542.5"/><line x1="700.5" y1="536.5" x2="703.5" y2="536.5"/><line x1="700.5" y1="531.5" x2="703.5" y2="531.5"/><line x1="698.5" y1="525.5" x2="703.5" y2="525.5"/><line x1="700.5" y1="520.5" x2="703.5" y2="520.5"/><line x1="700.5" y1="515.5" x2="703.5" y2="515.5"/><line x1="700.5" y1="509.5" x2="703.5" y2="509.5"/><line x1="700.5" y1="504.5" x2="703.5" y2="504.5"/><line x1="698.5" y1="499.5" x2="703.5" y2="499.5"/><line x1="700.5" y1="493.5" x2="703.5" y2="493.5"/><line x1="700.5" y1="488.5" x2="703.5" y2="488.5"/><line x1="700.5" y1="483.5" x2="703.5" y2="483.5"/><line x1="700.5" y1="477.5" x2="703.5" y2="477.5"/><line x1="698.5" y1="472.5" x2="703.5" y2="472.5"/><line x1="700.5" y1="467.5" x2="703.5" y2="467.5"/><line x1="700.5" y1="461.5" x2="703.5" y2="461.5"/><line x1="700.5" y1="456.5" x2="703.5" y2="456.5"/><line x1="700.5" y1="451.5" x2="703.5" y2="451.5"/><line x1="698.5" y1="445.5" x2="703.5" y2="445.5"/><line x1="700.5" y1="440.5" x2="703.5" y2="440.5"/><line x1="700.5" y1="435.5" x2="703.5" y2="435.5"/><line x1="700.5" y1="429.5" x2="703.5" y2="429.5"/><line x1="700.5" y1="424.5" x2="703.5" y2="424.5"/><line x1="698.5" y1="418.5" x2="703.5" y2="418.5"/><line x1="700.5" y1="413.5" x2="703.5" y2="413.5"/><line x1="700.5" y1="408.5" x2="703.5" y2="408.5"/><line x1="700.5" y1="402.5" x2="703.5" y2="402.5"/><line x1="700.5" y1="397.5" x2="703.5" y2="397.5"/><line x1="698.5" y1="392.5" x2="703.5" y2="392.5"/><line x1="700.5" y1="386.5" x2="703.5" y2="386.5"/><line x1="700.5" y1="381.5" x2="703.5" y2="381.5"/><line x1="700.5" y1="376.5" x2="703.5" y2="376.5"/><line x1="700.5" y1="370.5" x2="703.5" y2="370.5"/><line x1="698.5" y1="365.5" x2="703.5" y2="365.5"/><line x1="700.5" y1="360.5" x2="703.5" y2="360.5"/><line x1="700.5" y1="354.5" x2="703.5" y2="354.5"/><line x1="700.5" y1="349.5" x2="703.5" y2="349.5"/><line x1="700.5" y1="344.5" x2="703.5" y2="344.5"/><line x1="698.5" y1="338.5" x2="703.5" y2="338.5"/></g><g font-family="Liberation Sans, sans-serif" font-size="11.2" fill="#111"><text x="466.7" y="570.5" text-anchor="middle">-45</text><text x="492.9" y="570.5" text-anchor="middle">-40</text><text x="519.2" y="570.5" text-anchor="middle">-35</text><text x="545.4" y="570.5" text-anchor="middle">-30</text><text x="571.6" y="570.5" text-anchor="middle">-25</text><text x="597.8" y="570.5" text-anchor="middle">-20</text><text x="624.0" y="570.5" text-anchor="middle">-15</text><text x="650.3" y="570.5" text-anchor="middle">-10</text><text x="676.5" y="570.5" text-anchor="middle">-5</text><text x="703.2" y="570.5" text-anchor="middle">0</text><text x="729.4" y="570.5" text-anchor="middle">5</text><text x="755.6" y="570.5" text-anchor="middle">10</text><text x="781.9" y="570.5" text-anchor="middle">15</text><text x="808.1" y="570.5" text-anchor="middle">20</text><text x="834.3" y="570.5" text-anchor="middle">25</text><text x="860.5" y="570.5" text-anchor="middle">30</text><text x="886.7" y="570.5" text-anchor="middle">35</text><text x="913.0" y="570.5" text-anchor="middle">40</text><text x="939.2" y="570.5" text-anchor="middle">45</text><text x="965.4" y="570.5" text-anchor="middle">50</text><text x="991.6" y="570.5" text-anchor="middle">55</text><text x="693.5" y="716.7" text-anchor="end">-30</text><text x="693.5" y="690.0" text-anchor="end">-25</text><text x="693.5" y="663.2" text-anchor="end">-20</text><text x="693.5" y="636.5" text-anchor="end">-15</text><text x="693.5" y="609.7" text-anchor="end">-10</text><text x="693.5" y="583.0" text-anchor="end">-5</text><text x="694" y="557.2" text-anchor="end">0</text><text x="693.5" y="529.5" text-anchor="end">5</text><text x="693.5" y="502.7" text-anchor="end">10</text><text x="693.5" y="476.0" text-anchor="end">15</text><text x="693.5" y="449.2" text-anchor="end">20</text><text x="693.5" y="422.5" text-anchor="end">25</text><text x="693.5" y="395.7" text-anchor="end">30</text><text x="693.5" y="369.0" text-anchor="end">35</text><text x="693.5" y="342.2" text-anchor="end">40</text></g><g font-family="Liberation Sans, sans-serif" font-size="14" fill="#222"><text x="689" y="333">Y</text><text x="679" y="350" font-size="13.5">[mm]</text><text x="953" y="714" font-size="13.3">X&#160; [mm]</text></g><g stroke="#7a0808" stroke-width="1" fill="none" shape-rendering="crispEdges"><line x1="551.1" y1="455.9" x2="855.3" y2="455.9"/><line x1="544.8" y1="535.1" x2="861.6" y2="535.1"/><line x1="510.5" y1="547.7" x2="895.9" y2="547.7"/></g><line x1="545.9" y1="495.5" x2="964.5" y2="529.1" stroke="#44cc44" stroke-width="1"/><path d="M960.9 525.5 L968.1 532.7 M968.1 525.5 L960.9 532.7" stroke="#22dd33" stroke-width="3.2"/><path d="M711.1 393.3 C711.3 395.7 712.1 402.7 712.6 407.8 C713.2 412.8 713.6 418.5 714.2 423.8 C714.8 429.2 715.5 434.7 716.3 439.9 C717.1 445.0 718.0 450.4 718.9 454.8 C719.9 459.3 720.8 462.9 722.1 466.6 C723.4 470.3 725.1 474.2 726.8 477.3 C728.5 480.4 729.9 482.7 732.0 485.3 C734.2 488.0 736.8 490.9 739.9 493.4 C743.0 495.8 746.0 497.6 750.4 499.8 C754.8 501.9 760.9 504.2 766.1 506.2 C771.4 508.2 774.9 509.3 781.9 511.5 C788.9 513.8 799.3 517.1 808.1 519.6 C816.8 522.1 825.6 524.0 834.3 526.5 C843.0 529.0 856.1 533.2 860.5 534.5" fill="none" stroke="#23238e" stroke-width="1.1"/><polyline points="510.5,552.2 520.1,548.7 529.8,545.4 539.4,542.3 549.0,539.4 558.7,536.7 568.3,534.2 577.9,531.9 587.6,529.7 597.2,527.7 606.8,525.9 616.5,524.3 626.1,522.8 635.7,521.6 645.4,520.5 655.0,519.5 664.7,518.8 674.3,518.2 683.9,517.8 693.6,517.5 703.2,517.4 712.8,517.5 722.5,517.8 732.1,518.2 741.7,518.8 751.4,519.5 761.0,520.5 770.7,521.6 780.3,522.8 789.9,524.3 799.6,525.9 809.2,527.7 818.8,529.7 828.5,531.9 838.1,534.2 847.7,536.7 857.4,539.4 867.0,542.3 876.6,545.4 886.3,548.7 895.9,552.2" fill="none" stroke="#f090f0" stroke-width="4" stroke-linecap="round"/><polyline points="510.5,552.2 520.1,548.7 529.8,545.4 539.4,542.3 549.0,539.4 558.7,536.7 568.3,534.2 577.9,531.9 587.6,529.7 597.2,527.7 606.8,525.9 616.5,524.3 626.1,522.8 635.7,521.6 645.4,520.5 655.0,519.5 664.7,518.8 674.3,518.2 683.9,517.8 693.6,517.5 703.2,517.4 712.8,517.5 722.5,517.8 732.1,518.2 741.7,518.8 751.4,519.5 761.0,520.5 770.7,521.6 780.3,522.8 789.9,524.3 799.6,525.9 809.2,527.7 818.8,529.7 828.5,531.9 838.1,534.2 847.7,536.7 857.4,539.4 867.0,542.3 876.6,545.4 886.3,548.7 895.9,552.2" fill="none" stroke="#c01cc0" stroke-width="2" stroke-linecap="round"/><polyline points="510.5,556.5 520.1,553.0 529.8,549.7 539.4,546.6 549.0,543.7 558.7,541.0 568.3,538.5 577.9,536.1 587.6,534.0 597.2,532.0 606.8,530.2 616.5,528.6 626.1,527.1 635.7,525.9 645.4,524.7 655.0,523.8 664.7,523.1 674.3,522.5 683.9,522.0 693.6,521.8 703.2,521.7 712.8,521.8 722.5,522.0 732.1,522.5 741.7,523.1 751.4,523.8 761.0,524.7 770.7,525.9 780.3,527.1 789.9,528.6 799.6,530.2 809.2,532.0 818.8,534.0 828.5,536.1 838.1,538.5 847.7,541.0 857.4,543.7 867.0,546.6 876.6,549.7 886.3,553.0 895.9,556.5" fill="none" stroke="#dd44dd" stroke-width="1" stroke-dasharray="3 2"/><polyline points="703.2,431.8 833.4,431.8 840.6,437.2 847.4,444.1 852.7,451.1 855.3,455.9 857.9,472.0 859.7,493.4 860.8,514.8 861.6,535.1 895.9,547.7 895.9,629.8" fill="none" stroke="#7a0505" stroke-width="4" stroke-linecap="round" stroke-linejoin="round"/><line x1="739.9" y1="431.8" x2="739.9" y2="421.7" stroke="#7a0505" stroke-width="3.4" stroke-linecap="round"/><polyline points="703.2,431.8 573.0,431.8 565.8,437.2 559.0,444.1 553.7,451.1 551.1,455.9 548.5,472.0 546.7,493.4 545.6,514.8 544.8,535.1 510.5,547.7 510.5,629.8" fill="none" stroke="#7a0505" stroke-width="4" stroke-linecap="round" stroke-linejoin="round"/><line x1="666.5" y1="431.8" x2="666.5" y2="421.7" stroke="#7a0505" stroke-width="3.4" stroke-linecap="round"/><line x1="561.6" y1="442.0" x2="638.1" y2="515.7" stroke="#c8a0ee" stroke-width="3.2"/><line x1="638.1" y1="515.7" x2="636.8" y2="509.3" stroke="#c8a0ee" stroke-width="3" stroke-linecap="round"/><line x1="638.1" y1="515.7" x2="631.7" y2="514.6" stroke="#c8a0ee" stroke-width="3" stroke-linecap="round"/><line x1="762.5" y1="328.5" x2="797" y2="328.5" stroke="#2a2a9a" stroke-width="1"/><line x1="762.5" y1="344.5" x2="797" y2="344.5" stroke="#dd44dd" stroke-width="1" stroke-dasharray="2.5 1.5"/><line x1="762.5" y1="362" x2="797" y2="362" stroke="#f090f0" stroke-width="3.6"/><line x1="762.5" y1="362" x2="797" y2="362" stroke="#c01cc0" stroke-width="1.8"/><g font-family="Liberation Sans, sans-serif" font-size="12" fill="#111"><text x="801" y="332">Mathemat. optimiertes Quetschband</text><text x="801" y="348.5">Kolben bei max Quetschgeschw.</text><text x="801" y="366">Kolben in OT</text></g></svg>
</body></html>
